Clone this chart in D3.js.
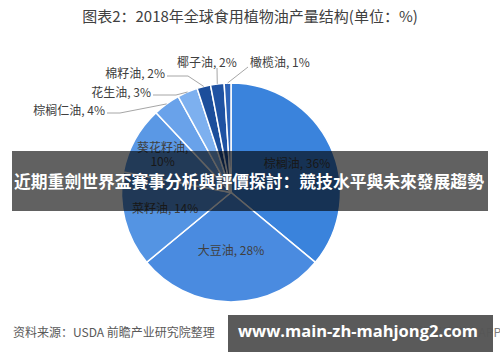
<!DOCTYPE html>
<html><head><meta charset="utf-8">
<script src="https://cdn.jsdelivr.net/npm/d3@7"></script>
<style>html,body{margin:0;padding:0;background:#fff;}svg{display:block;}</style>
</head><body>
<script>
// ---- data ----
const categories = ["棕榈油","大豆油","菜籽油","葵花籽油","棕榈仁油","花生油","棉籽油","椰子油","橄榄油"];
const values = [36, 28, 14, 10, 4, 3, 2, 2, 1];
const colors = ["#3a83dc","#4a8be0","#5494e3","#5a98e5","#69a2ea","#7db0ef","#1c4e9b","#1f52a2","#2d63b8"];
const title = "图表2：2018年全球食用植物油产量结构(单位：%)";
const source = "资料来源：USDA 前瞻产业研究院整理";
const bannerText = "近期重劍世界盃賽事分析與評價探討：競技水平與未來發展趨勢";
const urlText = "www.main-zh-mahjong2.com";
const watermarkText = "@前瞻经济学人APP";

// ---- layout ----
const W = 500, H = 362;
const cx = 231, cy = 192.5, R = 109.5;
const font = "'Noto Sans CJK SC','Noto Sans',sans-serif";
const inside = {"棕榈油":{r:73,dy:3},"大豆油":{r:58,dy:0},"菜籽油":{r:68,dy:0},"葵花籽油":{r:78,dy:0,wrap:true}};
const outside = {
  "棕榈仁油":{x:105,y:111,anchor:"end",path:[[107,113],[120,113]]},
  "花生油":{x:151,y:93,anchor:"end",path:[[153,95],[176,95]]},
  "棉籽油":{x:165,y:74,anchor:"end",path:[[167,76],[188,76]]},
  "椰子油":{x:177,y:63,anchor:"start",path:[[217,68]]},
  "橄榄油":{x:250,y:63,anchor:"start",path:[[248,67]]}
};

const svg = d3.select("body").append("svg").attr("width",W).attr("height",H);

svg.append("text").attr("x",250).attr("y",18).attr("text-anchor","middle")
  .attr("dominant-baseline","middle").attr("font-family",font).attr("font-size",15)
  .attr("fill","#404040").text(title);

const data = categories.map((c,i)=>({name:c,value:values[i],color:colors[i]}));
const pie = d3.pie().sort(null).value(d=>d.value);
const arcs = pie(data);
const arc = d3.arc().innerRadius(0).outerRadius(R);

const g = svg.append("g").attr("transform",`translate(${cx},${cy})`);
g.selectAll("path.slice").data(arcs).join("path").attr("class","slice")
  .attr("d",arc).attr("fill",d=>d.data.color).attr("stroke","#fff").attr("stroke-width",1.5);

arcs.forEach(a=>{
  const L = inside[a.data.name]; if(!L) return;
  const m = (a.startAngle+a.endAngle)/2;
  const x = cx + L.r*Math.sin(m), y = cy - L.r*Math.cos(m) + L.dy;
  const t = svg.append("text").attr("text-anchor","middle").attr("font-family",font)
    .attr("font-size",12).attr("fill","#404040");
  if(L.wrap){
    t.append("tspan").attr("x",x).attr("y",y-7+4).text(a.data.name+",");
    t.append("tspan").attr("x",x).attr("y",y+7+4).text(a.data.value+"%");
  } else {
    t.attr("x",x).attr("y",y+4).text(a.data.name+", "+a.data.value+"%");
  }
});

arcs.forEach(a=>{
  const L = outside[a.data.name]; if(!L) return;
  const m = (a.startAngle+a.endAngle)/2;
  const ex = cx + R*Math.sin(m), ey = cy - R*Math.cos(m);
  const pts = L.path.concat([[ex,ey]]);
  svg.append("path").attr("d",d3.line()(pts)).attr("fill","none")
    .attr("stroke","#a6a6a6").attr("stroke-width",1);
  svg.append("text").attr("x",L.x).attr("y",L.y+4).attr("text-anchor",L.anchor)
    .attr("font-family",font).attr("font-size",12).attr("fill","#404040")
    .text(a.data.name+", "+a.data.value+"%");
});

svg.append("text").attr("x",13).attr("y",337).attr("font-family",font).attr("font-size",12)
  .attr("fill","#595959").text(source);
svg.append("text").attr("x",501).attr("y",337).attr("text-anchor","end").attr("font-family",font)
  .attr("font-size",12).attr("fill","#808080").text(watermarkText);

svg.append("rect").attr("x",12).attr("y",151).attr("width",476).attr("height",60)
  .attr("fill","#000").attr("fill-opacity",0.62);
svg.append("text").attr("x",249).attr("y",183).attr("text-anchor","middle")
  .attr("dominant-baseline","middle").attr("font-family",font).attr("font-weight","bold")
  .attr("font-size",16.8).attr("fill","#fff").text(bannerText);

svg.append("rect").attr("x",228).attr("y",315).attr("width",265).attr("height",37)
  .attr("fill","#555").attr("fill-opacity",0.97);
svg.append("text").attr("x",358).attr("y",333).attr("text-anchor","middle")
  .attr("dominant-baseline","middle").attr("font-family","'Open Sans','DejaVu Sans',sans-serif")
  .attr("font-weight","bold").attr("font-size",16.5).attr("fill","#fff").text(urlText);
</script>
</body></html>
